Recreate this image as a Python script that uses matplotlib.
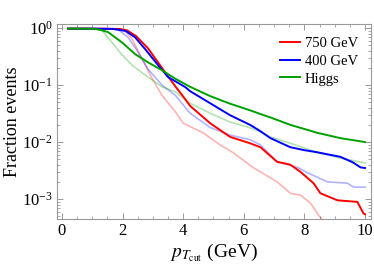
import matplotlib
matplotlib.use("Agg")
import matplotlib.pyplot as plt
from matplotlib.ticker import MultipleLocator, LogLocator, NullFormatter, LogFormatterMathtext

plt.rcParams['font.family'] = ['Liberation Serif', 'DejaVu Serif']
plt.rcParams['mathtext.fontset'] = 'stix'

# bold curves
x_750 = [0.2, 1.0, 1.9, 2.15, 2.45, 2.84, 3.3, 3.74, 4.0, 4.23, 4.89, 5.55, 6.21, 6.55,
         7.1, 7.54, 7.87, 8.3, 8.53, 9.09, 9.75, 9.95, 10.0]
y_750 = [0.977, 0.977, 0.966, 0.91, 0.72, 0.44, 0.2, 0.095, 0.063, 0.043, 0.0214, 0.0123,
         0.0095, 0.0081, 0.0045, 0.0040, 0.0030, 0.0019, 0.00126, 0.00095, 0.00089,
         0.00056, 0.00054]

x_400 = [0.2, 1.0, 1.7, 2.1, 2.41, 2.74, 3.17, 3.5, 4.07, 4.23, 4.89, 5.55, 6.21, 6.55,
         6.88, 7.54, 8.0, 8.43, 9.19, 9.6, 9.85, 10.0]
y_400 = [0.977, 0.977, 0.966, 0.89, 0.69, 0.43, 0.224, 0.138, 0.092, 0.078, 0.048, 0.0295,
         0.020, 0.0155, 0.0117, 0.0081, 0.0072, 0.0066, 0.0055, 0.0044, 0.0036, 0.0035]

x_higgs = [0.2, 0.8, 1.1, 1.3, 1.52, 1.98, 2.41, 2.84, 3.3, 3.74, 4.23, 4.89, 5.55, 6.21,
           6.55, 6.88, 7.54, 8.43, 9.19, 10.0]
y_higgs = [0.977, 0.977, 0.966, 0.92, 0.85, 0.56, 0.35, 0.25, 0.182, 0.129, 0.093, 0.064,
           0.047, 0.036, 0.031, 0.027, 0.020, 0.0145, 0.0117, 0.010]

# faded curves
x_750b = [0.2, 1.0, 1.9, 2.1, 2.31, 2.64, 2.98, 3.3, 3.74, 4.0, 4.66, 5.22, 5.65, 6.3,
          7.1, 7.54, 7.87, 8.2, 8.47, 8.6, 8.7]
y_750b = [0.977, 0.977, 0.96, 0.87, 0.65, 0.29, 0.129, 0.066, 0.034, 0.0214, 0.0145,
          0.0089, 0.0065, 0.0036, 0.002, 0.00126, 0.00117, 0.00085, 0.00052, 0.00043, 0.0003]

x_400b = [0.2, 1.0, 1.7, 1.9, 2.18, 2.51, 2.84, 3.3, 3.74, 4.23, 4.89, 5.55, 6.21, 6.55,
          7.1, 7.77, 8.1, 8.76, 9.42, 9.62, 10.0]
y_400b = [0.977, 0.977, 0.96, 0.9, 0.69, 0.38, 0.19, 0.1, 0.066, 0.032, 0.018, 0.0132,
          0.011, 0.0089, 0.0045, 0.0036, 0.0029, 0.002, 0.0019, 0.00162, 0.00162]

x_higgsb = [0.2, 0.8, 1.1, 1.32, 1.65, 1.98, 2.31, 2.74, 3.3, 3.74, 4.23, 4.89, 5.55,
            6.21, 6.55, 6.88, 7.54, 8.43, 9.19, 10.0]
y_higgsb = [0.977, 0.977, 0.96, 0.91, 0.56, 0.34, 0.224, 0.151, 0.093, 0.076, 0.048,
            0.032, 0.0224, 0.0178, 0.0151, 0.0123, 0.0095, 0.0066, 0.0052, 0.0043]

red = '#ff0000'
blue = '#0000ff'
green = '#00a000'

fig = plt.figure(figsize=(3.74, 2.8), dpi=100)
ax = fig.add_axes([0.152, 0.218, 0.84, 0.696])

ax.plot(x_750b, y_750b, color=red, alpha=0.3, lw=1.2)
ax.plot(x_400b, y_400b, color=blue, alpha=0.3, lw=1.2)
ax.plot(x_higgsb, y_higgsb, color=green, alpha=0.3, lw=1.2)
ax.plot(x_750, y_750, color=red, lw=1.4, label='750 GeV')
ax.plot(x_400, y_400, color=blue, lw=1.4, label='400 GeV')
ax.plot(x_higgs, y_higgs, color=green, lw=1.4, label='Higgs')

ax.set_yscale('log')
ax.set_xlim(-0.17, 10.2)
ax.set_ylim(10**-3.35, 10**0.07)

ax.xaxis.set_major_locator(MultipleLocator(2))
ax.xaxis.set_minor_locator(MultipleLocator(0.5))
ax.yaxis.set_major_locator(LogLocator(base=10))
ax.yaxis.set_minor_locator(LogLocator(base=10, subs=range(2, 10)))
ax.yaxis.set_major_formatter(LogFormatterMathtext())
ax.yaxis.set_minor_formatter(NullFormatter())

for s in ax.spines.values():
    s.set_color('#9a9a9a')
    s.set_linewidth(0.8)
ax.tick_params(which='both', direction='in', top=True, right=True, color='#9a9a9a',
               labelsize=12, pad=3)
ax.tick_params(which='major', length=4, width=0.7)
ax.tick_params(which='minor', length=2, width=0.6)

ax.set_xlabel(r'$p_{T_\mathrm{cut}}$ (GeV)', fontsize=14, labelpad=2)
ax.set_ylabel('Fraction events', fontsize=13, labelpad=1)

ax.legend(loc='upper right', frameon=False, fontsize=10.5, handlelength=1.4,
          handletextpad=0.3, labelspacing=0.3, borderaxespad=0.5)

fig.savefig('out.png', dpi=100)
